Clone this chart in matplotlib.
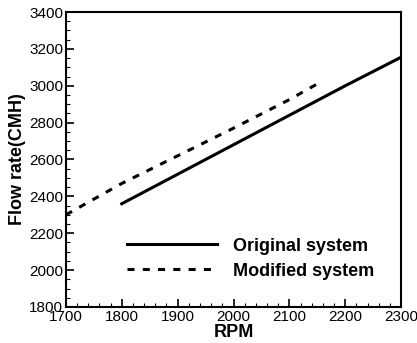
import matplotlib.pyplot as plt
from matplotlib.ticker import MultipleLocator

plt.rcParams['font.family'] = ['Liberation Sans', 'DejaVu Sans']

# data
rpm_orig = [1800, 1900, 2000, 2100, 2200, 2300]
flow_orig = [2360, 2520, 2680, 2840, 3000, 3155]
rpm_mod = [1700, 1800, 1900, 2000, 2100, 2150]
flow_mod = [2300, 2470, 2620, 2770, 2925, 3010]

fig = plt.figure(figsize=(4.17, 3.43), dpi=100)
ax = fig.add_axes([0.158, 0.105, 0.804, 0.86])

ax.plot(rpm_orig, flow_orig, color='black', linewidth=2.2, linestyle='-', label='Original system')
ax.plot(rpm_mod, flow_mod, color='black', linewidth=2.2, linestyle=(0, (2.3, 2.7)), label='Modified system')

ax.set_xlim(1700, 2300)
ax.set_ylim(1800, 3400)
ax.xaxis.set_major_locator(MultipleLocator(100))
ax.xaxis.set_minor_locator(MultipleLocator(20))
ax.yaxis.set_major_locator(MultipleLocator(200))
ax.yaxis.set_minor_locator(MultipleLocator(50))
ax.tick_params(which='both', direction='in', top=False, right=False, labelsize=11, pad=2)
ax.tick_params(which='major', length=6, width=1.2)
ax.tick_params(which='minor', length=3, width=0.8)
for s in ax.spines.values():
    s.set_linewidth(1.5)

ax.set_xlabel('RPM', fontsize=13, fontweight='bold', labelpad=0)
ax.set_ylabel('Flow rate(CMH)', fontsize=13, fontweight='bold', labelpad=2)

leg = ax.legend(loc='upper left', bbox_to_anchor=(0.182, 0.235), frameon=False,
                prop={'weight': 'bold', 'size': 13}, handlelength=5.0,
                handletextpad=0.9, labelspacing=0.45, borderpad=0, borderaxespad=0)

plt.savefig('out.png', dpi=100)
